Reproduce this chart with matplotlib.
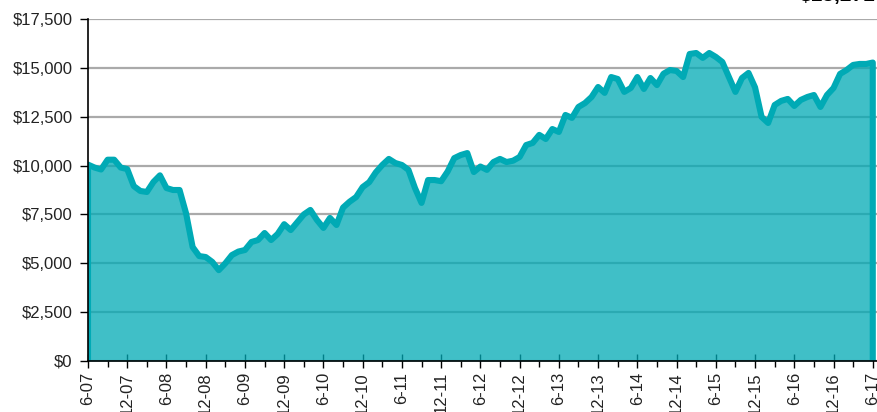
import numpy as np
import matplotlib.pyplot as plt
from matplotlib.ticker import FuncFormatter, MultipleLocator

plt.rcParams['font.family'] = ['Liberation Sans', 'DejaVu Sans']

# month-end account value, June 2007 through June 2017
values = [
    10050, 9900, 9800, 10300, 10300, 9900, 9820, 8950, 8700, 8650,
    9160, 9500, 8850, 8750, 8750, 7550, 5830, 5370, 5320, 5070,
    4650, 5000, 5420, 5600, 5680, 6090, 6190, 6550, 6190, 6500,
    7000, 6700, 7100, 7500, 7730, 7220, 6810, 7320, 6960, 7850,
    8150, 8390, 8900, 9150, 9650, 10030, 10340, 10130, 10030, 9780,
    8850, 8090, 9260, 9260, 9200, 9700, 10380, 10540, 10640, 9670,
    9950, 9780, 10180, 10340, 10180, 10250, 10440, 11050, 11160, 11570,
    11360, 11870, 11720, 12590, 12440, 13000, 13200, 13510, 14020, 13720,
    14530, 14430, 13770, 13970, 14530, 13920, 14480, 14120, 14700, 14890,
    14840, 14530, 15710, 15760, 15510, 15760, 15560, 15300, 14530, 13770,
    14480, 14740, 14000, 12490, 12180, 13100, 13310, 13410, 13050, 13360,
    13510, 13610, 13000, 13610, 13970, 14690, 14890, 15150, 15200, 15200,
    15271,
]
tick_labels = ['6-07', '12-07', '6-08', '12-08', '6-09', '12-09', '6-10',
               '12-10', '6-11', '12-11', '6-12', '12-12', '6-13', '12-13',
               '6-14', '12-14', '6-15', '12-15', '6-16', '12-16', '6-17']
end_label = '$15,271'

teal = '#00aab5'
months = np.arange(len(values))

fig = plt.figure(figsize=(8.78, 4.12), dpi=100)
ax = fig.add_axes([88 / 878, 1 - 361 / 412, 790 / 878, 342 / 412])

ax.set_ylim(0, 17500)
ax.set_xlim(0, 120.8)
ax.yaxis.set_major_locator(MultipleLocator(2500))
ax.yaxis.set_major_formatter(FuncFormatter(lambda v, p: f'${v:,.0f}'))
ax.grid(axis='y', color='#aaaaaa', linewidth=1.6, zorder=0)
ax.set_axisbelow(True)

ax.fill_between(months, values, 0, color=teal, alpha=0.75, linewidth=0, zorder=2)
outline_x = np.concatenate([[0], months, [months[-1]]])
outline_y = np.concatenate([[0], values, [0]])
ax.plot(outline_x, outline_y, color=teal, linewidth=4.4,
        solid_joinstyle='round', zorder=3)

ax.set_xticks(np.arange(0, 121, 6))
ax.set_xticklabels(tick_labels, rotation=90)
ax.set_xticks(np.arange(3, 121, 6), minor=True)
ax.tick_params(axis='x', which='major', direction='inout', length=10,
               width=1, labelsize=12, pad=3, labelcolor='#222222')
ax.tick_params(axis='x', which='minor', direction='out', length=4, width=1)
ax.tick_params(axis='y', direction='out', length=6, width=1, labelsize=12,
               pad=5, labelcolor='#222222')

for side in ['top', 'right']:
    ax.spines[side].set_visible(False)
for side in ['left', 'bottom']:
    ax.spines[side].set_linewidth(1.2)
    ax.spines[side].set_zorder(4)

# ending value, sitting mostly above the top edge of the figure
fig.text(875 / 878, 1 - 1.5 / 412, end_label, ha='right', va='baseline',
         fontsize=15, fontweight='bold')

fig.savefig('out.png', dpi=100)
